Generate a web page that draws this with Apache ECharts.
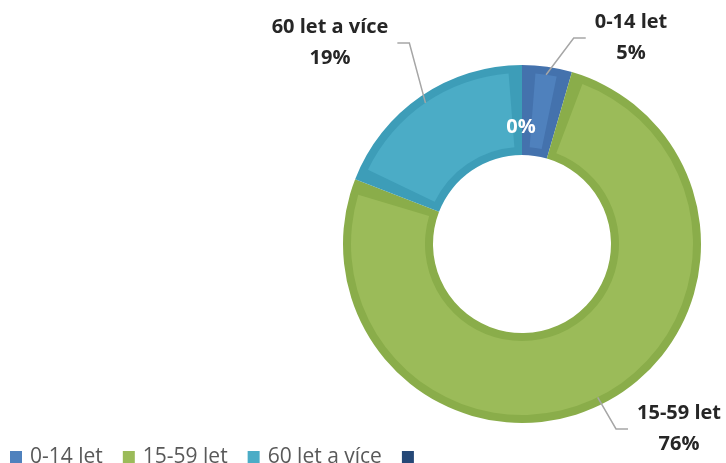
<!DOCTYPE html>
<html><head><meta charset="utf-8">
<script src="https://cdn.jsdelivr.net/npm/echarts@6/dist/echarts.min.js"></script>
<style>html,body{margin:0;padding:0;background:#fff}#chart{width:726px;height:463px}</style>
</head><body><div id="chart"></div>
<script>
// Data
const categories = ['0-14 let', '15-59 let', '60 let a více', ' '];
const shares = [4.5, 76.4, 19.1, 0];

// Styles / layout
const fillColors = ['#4f81bd', '#9bbb59', '#4bacc6', '#254877'];
const edgeColors = ['#4472ad', '#8aad4a', '#3d9db8', '#1f3e69'];
const labelPos = [[631, 38], [679, 429], [330, 43], [521, 127]];
const FONT = '"Open Sans", "Liberation Sans", sans-serif';
const CENTER = [522, 244];

const chart = echarts.init(document.getElementById('chart'), null, { renderer: 'canvas' });
const option = {
  animation: false,
  legend: {
    left: 10, top: 445, padding: 0, itemWidth: 12, itemHeight: 12, itemGap: 20, icon: 'rect',
    data: categories.map((n, i) => ({ name: n, itemStyle: { color: fillColors[i] } })),
    textStyle: { fontFamily: FONT, fontSize: 21, color: '#595959', lineHeight: 24, padding: [0, 0, 0, 3] }
  },
  series: [
    {
      // lighter inner face of each slice
      type: 'pie', z: 3, silent: true, center: CENTER, radius: [97, 171], padAngle: 9,
      startAngle: 90, clockwise: true,
      label: { show: false }, labelLine: { show: false }, emphasis: { disabled: true },
      data: categories.map((n, i) => ({ name: n, value: shares[i] === 0 ? '-' : shares[i], itemStyle: { color: fillColors[i] } }))
    },
    {
      // darker rim of each slice
      type: 'pie', z: 2, silent: true, center: CENTER, radius: [89, 179],
      startAngle: 90, clockwise: true,
      label: { show: false }, labelLine: { show: false }, emphasis: { disabled: true },
      data: categories.map((n, i) => ({ name: n, value: shares[i], itemStyle: { color: edgeColors[i] } }))
    },
    {
      // labels
      type: 'pie', z: 4, silent: true, center: CENTER, radius: [97, 171],
      startAngle: 90, clockwise: true, avoidLabelOverlap: false,
      emphasis: { disabled: true },
      itemStyle: { color: 'rgba(0,0,0,0)' },
      data: categories.map((n, i) => {
        const item = { name: n, value: shares[i] };
        if (shares[i] === 0) {
          item.label = { position: 'inside', color: '#ffffff', formatter: '{c}%' };
          item.labelLine = { show: false };
        }
        return item;
      }),
      label: {
        show: true, position: 'outside', fontFamily: FONT, fontWeight: 'bold', fontSize: 20,
        lineHeight: 31, color: '#262626', padding: [0, 9],
        formatter: p => p.name + '\n' + Math.round(p.value) + '%'
      },
      labelLine: { show: true, length: 20, length2: 12, lineStyle: { color: '#a6a6a6', width: 1.5 } },
      labelLayout: p => ({ x: labelPos[p.dataIndex][0], y: labelPos[p.dataIndex][1], align: 'center', verticalAlign: 'middle' })
    }
  ]
};
chart.setOption(option);
</script>
</body></html>
